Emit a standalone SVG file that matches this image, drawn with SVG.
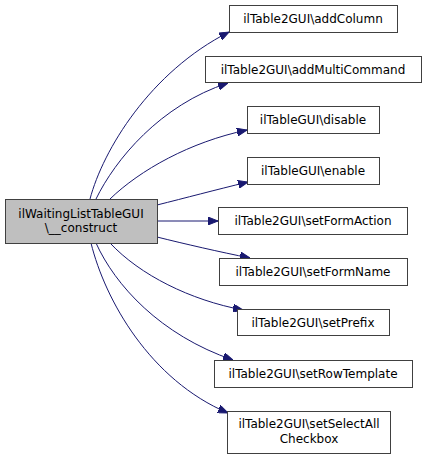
<svg xmlns="http://www.w3.org/2000/svg" width="427" height="459" viewBox="0 0 427 459">
<style>
.n rect{fill:#ffffff;stroke:#404040;stroke-width:1}
.n text{font-family:"DejaVu Sans",sans-serif;font-size:12px;fill:#000000;text-anchor:middle}
#edges path{fill:none;stroke:#191970;stroke-width:1}
</style>
<defs>
<marker id="ah" markerWidth="10" markerHeight="8" refX="10" refY="4" orient="auto" markerUnits="userSpaceOnUse">
<path d="M0,0 L10,4 L0,8 Z" fill="#191970" stroke="#191970" stroke-width="1"/>
</marker>
</defs>
<rect width="427" height="459" fill="#ffffff"/>
<g id="edges">
<path d="M90,199 C103,150 150,72 229,32" marker-end="url(#ah)"/>
<path d="M96,199 C115,160 160,105 228,83" marker-end="url(#ah)"/>
<path d="M110,199 C140,170 190,142 247,130" marker-end="url(#ah)"/>
<path d="M157,205 C185,198 215,190 248,182" marker-end="url(#ah)"/>
<path d="M157,221 L218,221" marker-end="url(#ah)"/>
<path d="M157,237 C185,244 220,252 250,258" marker-end="url(#ah)"/>
<path d="M110,243 C140,275 190,300 243,310" marker-end="url(#ah)"/>
<path d="M96,243 C115,285 160,335 233,360" marker-end="url(#ah)"/>
<path d="M91,243 C105,300 150,380 228,413" marker-end="url(#ah)"/>
</g>
<g id="main" class="n"><rect x="5.5" y="199.5" width="152" height="44" style="fill:#bfbfbf"/><text x="81" y="218">ilWaitingListTableGUI</text><text x="81" y="232">\__construct</text></g>
<g id="addColumn" class="n"><rect x="229.5" y="5.5" width="168" height="27"/><text x="313" y="23">ilTable2GUI\addColumn</text></g>
<g id="addMultiCommand" class="n"><rect x="205.5" y="56.5" width="216" height="26"/><text x="313" y="74">ilTable2GUI\addMultiCommand</text></g>
<g id="disable" class="n"><rect x="247.5" y="106.5" width="132" height="27"/><text x="313" y="124">ilTableGUI\disable</text></g>
<g id="enable" class="n"><rect x="247.5" y="157.5" width="132" height="27"/><text x="313" y="175">ilTableGUI\enable</text></g>
<g id="setFormAction" class="n"><rect x="218.5" y="207.5" width="189" height="27"/><text x="313" y="225">ilTable2GUI\setFormAction</text></g>
<g id="setFormName" class="n"><rect x="219.5" y="258.5" width="188" height="27"/><text x="313" y="276">ilTable2GUI\setFormName</text></g>
<g id="setPrefix" class="n"><rect x="237.5" y="309.5" width="152" height="26"/><text x="313" y="327">ilTable2GUI\setPrefix</text></g>
<g id="setRowTemplate" class="n"><rect x="214.5" y="360.5" width="198" height="27"/><text x="313" y="378">ilTable2GUI\setRowTemplate</text></g>
<g id="setSelectAll" class="n"><rect x="227.5" y="411.5" width="163" height="42"/><text x="309" y="428">ilTable2GUI\setSelectAll</text><text x="309" y="443">Checkbox</text></g>
</svg>
